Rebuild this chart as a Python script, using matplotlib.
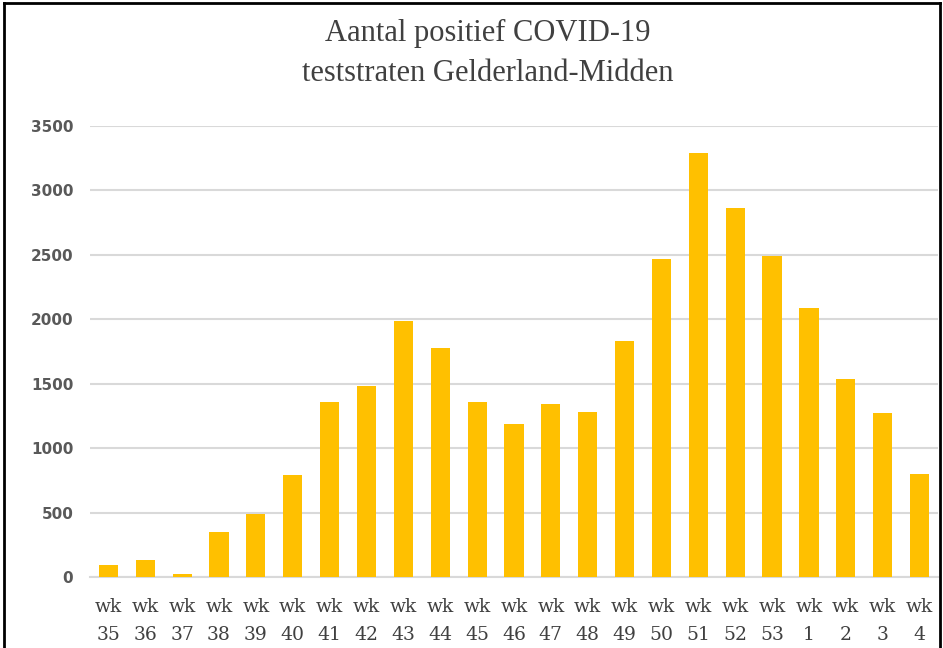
import matplotlib
matplotlib.use("Agg")
import matplotlib.pyplot as plt
from matplotlib.lines import Line2D

weeks = ["35", "36", "37", "38", "39", "40", "41", "42", "43", "44", "45", "46",
         "47", "48", "49", "50", "51", "52", "53", "1", "2", "3", "4"]
values = [95, 130, 20, 350, 490, 790, 1360, 1480, 1990, 1775, 1355, 1185,
          1340, 1280, 1835, 2470, 3290, 2860, 2490, 2085, 1540, 1275, 800]
yticks = [0, 500, 1000, 1500, 2000, 2500, 3000, 3500]
title = "Aantal positief COVID-19\nteststraten Gelderland-Midden"

fig = plt.figure(figsize=(9.43, 6.48), dpi=100)
ax = fig.add_axes([0.0954, 0.1096, 0.8993, 0.696])

x = list(range(len(weeks)))
ax.bar(x, values, width=0.52, color="#FFC000", zorder=3)
ax.set_xlim(-0.5, len(weeks) - 0.5)
ax.set_ylim(0, 3500)
ax.set_yticks(yticks)
ax.set_yticklabels([str(v) for v in yticks], fontsize=11, color="#595959",
                   fontweight="bold", family="DejaVu Sans")
ax.set_xticks(x)
ax.set_xticklabels(["wk\n" + w for w in weeks], fontsize=13.5, color="#404040",
                   family="DejaVu Serif", linespacing=1.7)
ax.grid(axis="y", color="#d9d9d9", linewidth=1.5, zorder=0)
for s in ["top", "right", "left"]:
    ax.spines[s].set_visible(False)
ax.spines["bottom"].set_color("#d9d9d9")
ax.spines["bottom"].set_linewidth(1.5)
ax.tick_params(axis="both", length=0)
ax.tick_params(axis="y", pad=12)
ax.tick_params(axis="x", pad=15)

fig.text(0.5175, 0.918, title, ha="center", va="center", fontsize=22,
         color="#404040", family="Liberation Serif", linespacing=1.5)

# figure frame (left, top, right)
fig.add_artist(Line2D([0.004, 0.004], [0, 0.996], transform=fig.transFigure, color="black", lw=2))
fig.add_artist(Line2D([0.004, 0.997], [0.996, 0.996], transform=fig.transFigure, color="black", lw=2))
fig.add_artist(Line2D([0.997, 0.997], [0, 0.996], transform=fig.transFigure, color="black", lw=2))

fig.savefig("out.png", dpi=100, facecolor="white")
